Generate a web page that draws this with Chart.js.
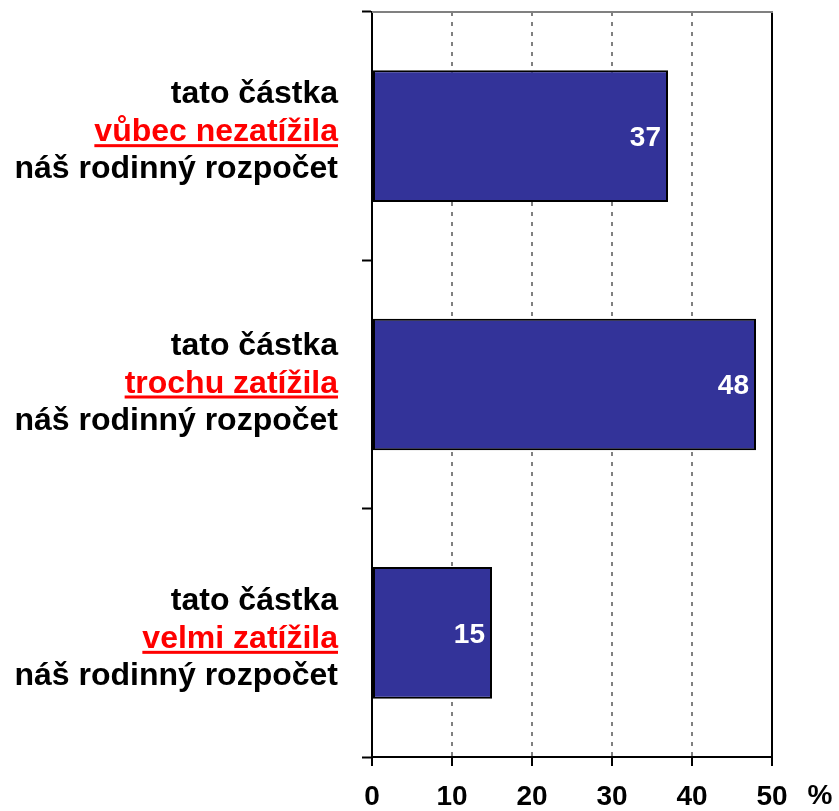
<!DOCTYPE html>
<html>
<head>
<meta charset="utf-8">
<title>Rodinný rozpočet</title>
<script src="https://cdn.jsdelivr.net/npm/chart.js@4.4.0/dist/chart.umd.min.js"></script>
<style>
  html, body { margin: 0; padding: 0; background: #fff; }
  #wrap { width: 839px; height: 811px; }
</style>
</head>
<body>
<div id="wrap"><canvas id="chart"></canvas></div>
<script>
// Data
const categories = ['vůbec nezatížila', 'trochu zatížila', 'velmi zatížila'];
const labelTop = 'tato částka';
const labelBottom = 'náš rodinný rozpočet';
const values = [37, 48, 15];
const xTicks = [0, 10, 20, 30, 40, 50];
const unitLabel = '%';

const FONT = '"Liberation Sans", Arial, sans-serif';

// Three-line category labels with the red underlined middle line,
// value labels inside the bars, the top frame line and the unit sign
const decorations = {
    id: 'decorations',
    afterDraw(chart) {
        const { ctx, chartArea, scales } = chart;
        const y = scales.y;
        const x = scales.x;

        ctx.save();

        // top frame line
        ctx.strokeStyle = '#808080';
        ctx.lineWidth = 2;
        ctx.beginPath();
        ctx.moveTo(chartArea.left, chartArea.top);
        ctx.lineTo(chartArea.right + 1, chartArea.top);
        ctx.stroke();

        // category labels (the lower blocks sit a little lower)
        const nudge = [0, 3, 10];
        const right = chartArea.left - 34;
        ctx.font = 'bold 32px ' + FONT;
        ctx.textAlign = 'right';
        ctx.textBaseline = 'alphabetic';
        categories.forEach((cat, i) => {
            const cy = y.getPixelForValue(i) + 5 + nudge[i];
            ctx.fillStyle = '#000000';
            ctx.fillText(labelTop, right, cy - 38);
            ctx.fillText(labelBottom, right, cy + 37);
            ctx.fillStyle = '#ff0000';
            ctx.fillText(cat, right, cy);
            const w = ctx.measureText(cat).width;
            ctx.fillRect(right - w, cy + 3, w, 3);
        });

        // values inside the bars
        const meta = chart.getDatasetMeta(0);
        ctx.font = 'bold 28px ' + FONT;
        ctx.fillStyle = '#ffffff';
        ctx.textBaseline = 'middle';
        meta.data.forEach((bar, i) => {
            ctx.fillText(String(values[i]), bar.x - 7, bar.y + 2);
        });

        // unit sign after the last tick
        ctx.fillStyle = '#000000';
        ctx.textAlign = 'center';
        ctx.fillText(unitLabel, chartArea.right + 48, x.top + 39);

        ctx.restore();
    }
};

const ctx = document.getElementById('chart').getContext('2d');
const chart = new Chart(ctx, {
    type: 'bar',
    data: {
        labels: categories,
        datasets: [{
            data: values,
            backgroundColor: '#333399',
            borderColor: '#000000',
            borderWidth: 2,
            borderSkipped: false,
            barPercentage: 0.53,
            categoryPercentage: 1
        }]
    },
    options: {
        indexAxis: 'y',
        responsive: true,
        maintainAspectRatio: false,
        animation: false,
        layout: {
            padding: { top: 12, right: 67, bottom: 0, left: 362 }
        },
        scales: {
            x: {
                min: 0,
                max: 50,
                afterBuildTicks: scale => {
                    scale.ticks = xTicks.map(v => ({ value: v }));
                },
                afterFit: scale => {
                    scale.height = 54;
                },
                ticks: {
                    color: '#000000',
                    padding: 17,
                    font: { family: FONT, size: 28, weight: 'bold', lineHeight: 1 }
                },
                grid: {
                    color: c => c.tick.value === 0 ? 'rgba(0,0,0,0)' : (c.tick.value === 50 ? '#000000' : '#808080'),
                    lineWidth: 2,
                    tickColor: '#000000',
                    tickLength: 9,
                    tickWidth: 2
                },
                border: {
                    color: '#000000',
                    width: 2,
                    dash: c => (c.tick && c.tick.value === 50) ? [] : [4, 6]
                }
            },
            y: {
                ticks: { display: false },
                grid: {
                    offset: true,
                    drawOnChartArea: false,
                    color: '#000000',
                    tickColor: '#000000',
                    tickLength: 10,
                    tickWidth: 2
                },
                border: { color: '#000000', width: 2 }
            }
        },
        plugins: {
            legend: { display: false },
            tooltip: { enabled: false }
        }
    },
    plugins: [decorations]
});
</script>
</body>
</html>
